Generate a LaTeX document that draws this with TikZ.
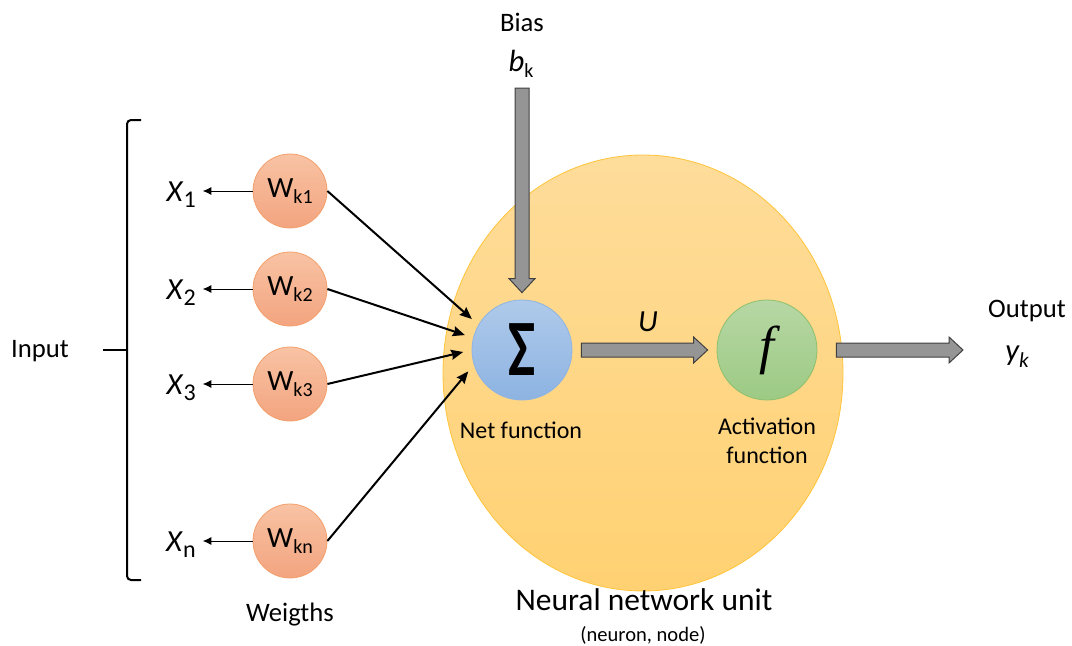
\documentclass[tikz,border=0pt]{standalone}
\usepackage{fontspec}
\setmainfont{Carlito}
\newfontfamily\funcfont{Liberation Serif}
\usepackage{graphicx}
\usetikzlibrary{calc,shapes.geometric,arrows.meta}

\definecolor{unittop}{HTML}{FEDC9A}
\definecolor{unitbot}{HTML}{FFD172}
\definecolor{unitedge}{HTML}{FFC43A}
\definecolor{sumtop}{HTML}{AFCAEA}
\definecolor{sumbot}{HTML}{8DB3E2}
\definecolor{sumedge}{HTML}{8FB4E3}
\definecolor{acttop}{HTML}{B7D7A4}
\definecolor{actbot}{HTML}{9CCA84}
\definecolor{actedge}{HTML}{8DC06F}
\definecolor{wtop}{HTML}{F8C3A4}
\definecolor{wbot}{HTML}{F3A47F}
\definecolor{wedge}{HTML}{F3A06C}
\definecolor{barfill}{HTML}{959595}
\definecolor{baredge}{HTML}{404040}

% subscript set in the text font
\newcommand{\lsub}[2][15]{\raisebox{-5pt}{\fontsize{#1}{#1}\selectfont #2}}

% thick gray arrow from #1 to #2
\newcommand{\fatarrow}[2]{%
  \coordinate (fa-b) at ($(#2)!10.5pt!(#1)$);
  \filldraw[bar] ($(#1)!5.25pt!90:(#2)$) -- ($(fa-b)!5.25pt!90:(#2)$)
    -- ($(fa-b)!9.75pt!90:(#2)$) -- (#2) -- ($(fa-b)!9.75pt!-90:(#2)$)
    -- ($(fa-b)!5.25pt!-90:(#2)$) -- ($(#1)!5.25pt!-90:(#2)$) -- cycle;}

\begin{document}
\begin{tikzpicture}[x=0.75pt, y=-0.75pt,
    unit/.style={ellipse, draw=unitedge, line width=0.6pt, top color=unittop,
      bottom color=unitbot, minimum width=300pt, minimum height=327pt},
    ball/.style={circle, inner sep=0pt, minimum size=75pt, line width=0.6pt},
    weight/.style={circle, inner sep=0pt, minimum size=55.5pt, draw=wedge,
      line width=0.6pt, top color=wtop, bottom color=wbot,
      font=\fontsize{22}{22}\selectfont},
    xlbl/.style={anchor=base east, inner sep=0pt, font=\fontsize{23}{23}\selectfont},
    lbl/.style={font=\fontsize{20}{24}\selectfont},
    mathlbl/.style={font=\fontsize{23}{24}\selectfont\itshape},
    sublbl/.style={font=\fontsize{18}{22}\selectfont},
    bar/.style={fill=barfill, draw=baredge, line width=0.75pt},
    warrow/.style={line width=1.5pt, -{Stealth[length=9pt, width=7.5pt, inset=1pt]},
      shorten >=6.5pt},
    inarrow/.style={line width=0.75pt, -{Latex[length=6.5pt, width=6pt]}, shorten >=5pt}]

    \useasboundingbox (0,0) rectangle (1072,646);

    % Neuron body
    \node[unit] (unit) at (643,373) {};

    % Net and activation functions
    \node[ball, draw=sumedge, top color=sumtop, bottom color=sumbot] (sum) at (522,350)
        {\scalebox{0.72}[1]{\fontsize{60}{60}\selectfont\bfseries Σ}};
    \node[ball, draw=actedge, top color=acttop, bottom color=actbot] (act) at (767,350)
        {\fontsize{40}{40}\selectfont\funcfont\itshape f};

    % Weights
    \node[weight] (w1) at (290,191) {W\lsub{k1}};
    \node[weight] (w2) at (290,289) {W\lsub{k2}};
    \node[weight] (w3) at (290,384) {W\lsub{k3}};
    \node[weight] (wn) at (290,541) {W\lsub{kn}};

    % Inputs
    \node[xlbl] (x1) at (196,201) {\textit{X}\lsub[18]{1}};
    \node[xlbl] (x2) at (196,299) {\textit{X}\lsub[18]{2}};
    \node[xlbl] (x3) at (196,394) {\textit{X}\lsub[18]{3}};
    \node[xlbl] (xn) at (196,551) {\textit{X}\lsub[18]{n}};

    \draw[inarrow] (w1.west) -- (w1.west -| x1.east);
    \draw[inarrow] (w2.west) -- (w2.west -| x2.east);
    \draw[inarrow] (w3.west) -- (w3.west -| x3.east);
    \draw[inarrow] (wn.west) -- (wn.west -| xn.east);

    % Weighted inputs into the sum
    \draw[warrow] (w1.east) -- (sum.150);
    \draw[warrow] (w2.east) -- (sum.166);
    \draw[warrow] (w3.east) -- (sum.180);
    \draw[warrow] (wn.east) -- (sum.197);

    % Bias
    \node[lbl] (bias) at (522,22) {Bias};
    \node[mathlbl] (bk) at (521,64) {b\lsub[15]{\upshape k}};
    \coordinate (bias-s) at (sum.north |- 0,88);
    \coordinate (bias-e) at ($(sum.north)+(0,-7)$);
    \fatarrow{bias-s}{bias-e}

    % Net value U
    \coordinate (u-s) at ($(sum.east)+(9,0)$);
    \coordinate (u-e) at ($(act.west)+(-9,0)$);
    \fatarrow{u-s}{u-e}
    \node[mathlbl] (u) at (648,322) {U};

    % Output
    \coordinate (out-s) at ($(act.east)+(19,0)$);
    \coordinate (out-e) at (963,350);
    \fatarrow{out-s}{out-e}
    \node[lbl] (output) at (1027,311) {Output};
    \node[mathlbl] (yk) at (1017,357) {y\lsub[16]{k}};

    % Labels
    \node[sublbl] (netf) at (521,430) {Net function};
    \node[sublbl, align=center] (actf) at (767,441) {Activation\\function};
    \node[font=\fontsize{23.6}{28}\selectfont] (title) at (644,600) {Neural network unit};
    \node[font=\fontsize{15.4}{18}\selectfont] (subtitle) at (643,635) {(neuron, node)};
    \node[lbl] (weigths) at (290,615) {Weigths};
    \node[lbl] (input) at (40,351) {Input};

    % Input bracket
    \draw[line width=1.5pt, rounded corners=3pt] (141,120) -- (127,120) -- (127,580) -- (141,580);
    \draw[line width=1.5pt] (103,350) -- (127,350);

\end{tikzpicture}
\end{document}
